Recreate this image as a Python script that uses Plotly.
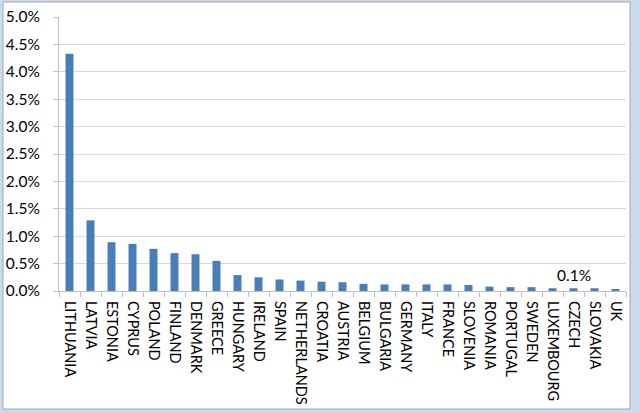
import plotly.graph_objects as go

countries = ["LITHUANIA", "LATVIA", "ESTONIA", "CYPRUS", "POLAND", "FINLAND", "DENMARK",
             "GREECE", "HUNGARY", "IRELAND", "SPAIN", "NETHERLANDS", "CROATIA", "AUSTRIA",
             "BELGIUM", "BULGARIA", "GERMANY", "ITALY", "FRANCE", "SLOVENIA", "ROMANIA",
             "PORTUGAL", "SWEDEN", "LUXEMBOURG", "CZECH", "SLOVAKIA", "UK"]
values_pct = [4.33, 1.29, 0.89, 0.86, 0.77, 0.69, 0.67,
              0.55, 0.29, 0.25, 0.21, 0.19, 0.17, 0.16,
              0.13, 0.12, 0.12, 0.12, 0.12, 0.11, 0.08,
              0.07, 0.07, 0.05, 0.05, 0.05, 0.02]
y_ticks = [0.0, 0.5, 1.0, 1.5, 2.0, 2.5, 3.0, 3.5, 4.0, 4.5, 5.0]
note_text = "0.1%"
note_country = "CZECH"
note_y = 0.29

font_family = "Lato, Open Sans, sans-serif"

fig = go.Figure()
fig.add_trace(go.Bar(x=countries, y=values_pct, marker=dict(color="#4a7ebb", line=dict(width=0)),
                     width=0.38))

fig.update_layout(
    width=640, height=413,
    margin=dict(l=59, r=14, t=17, b=122),
    paper_bgcolor="#c9dcef",
    plot_bgcolor="rgba(0,0,0,0)",
    showlegend=False,
    font=dict(family=font_family, size=14, color="#000000"),
    xaxis=dict(
        type="category", tickangle=90, ticks="outside", tickson="boundaries",
        ticklen=5, tickcolor="#bfbfbf", showline=True, linecolor="#bfbfbf",
        showgrid=False, tickfont=dict(size=14.5, color="#000000"),
        automargin=False, ticklabelstandoff=6,
    ),
    yaxis=dict(
        range=[0, 5.0], tickvals=y_ticks, ticktext=[f"{v:.1f}%" for v in y_ticks],
        ticks="outside", ticklen=5, tickcolor="#bfbfbf", showline=True, linecolor="#bfbfbf",
        gridcolor="#d9d9d9", zeroline=False, tickfont=dict(size=15.5, color="#000000"),
        ticklabelstandoff=10, automargin=False,
    ),
    shapes=[dict(type="rect", xref="paper", yref="paper", layer="below",
                 x0=-56 / 567, x1=1 + 4 / 567, y0=-118 / 274, y1=1 + 15 / 274,
                 fillcolor="#ffffff", line=dict(color="#a6a6a6", width=1))],
    annotations=[dict(x=note_country, y=note_y, xref="x", yref="y", text=note_text,
                      showarrow=False, font=dict(size=15.5, color="#000000"))],
)

fig.write_html("out.html", config={"displayModeBar": False},
               post_script="document.body.style.margin='0';document.body.style.overflow='hidden';")
